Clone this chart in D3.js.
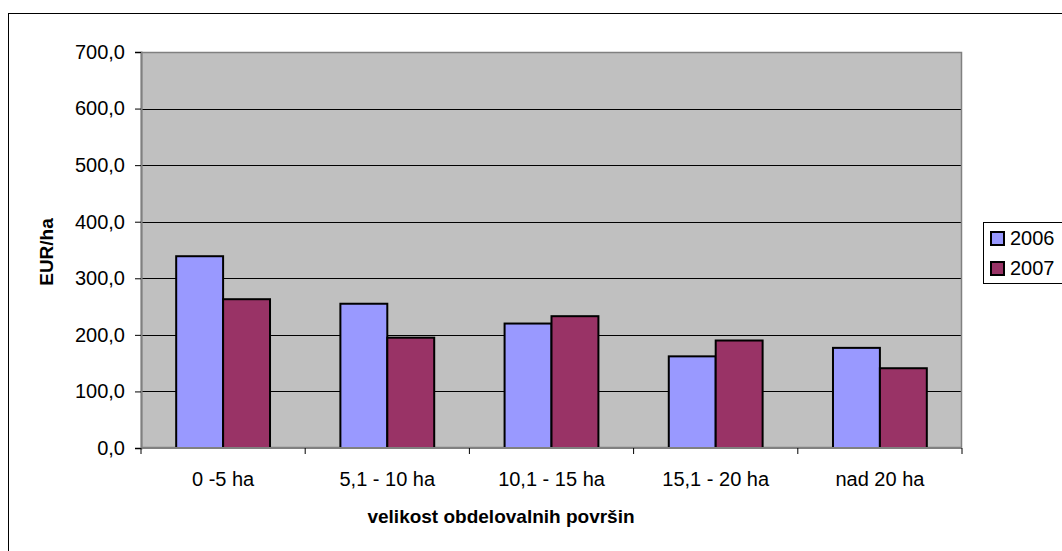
<!DOCTYPE html>
<html>
<head>
<meta charset="utf-8">
<script src="https://cdn.jsdelivr.net/npm/d3@7/dist/d3.min.js"></script>
<style>
  body { margin: 0; background: #fff; }
  svg { display: block; font-family: "Liberation Sans", Arial, sans-serif; }
</style>
</head>
<body>
<script>
// categories and series
const categories = ['0 -5 ha', '5,1 - 10 ha', '10,1 - 15 ha', '15,1 - 20 ha', 'nad 20 ha']
const years = ['2006', '2007']
const values2006 = [339, 255, 220, 162, 177]
const values2007 = [263, 195, 233, 190, 141]
const yTicks = [0, 100, 200, 300, 400, 500, 600, 700]
const colors = ['#9999FF', '#993366']

const series = [values2006, values2007]

// plot area
const margin = {top: 52, right: 100, bottom: 103, left: 141},
  W = 1062, H = 551,
  width = 962 - margin.left,
  height = 448 - margin.top

const svg = d3.select('body').append('svg')
  .attr('width', W)
  .attr('height', H)

// outer chart border (right / bottom run off the picture)
svg.append('rect')
  .attr('x', 8.5).attr('y', 13.5)
  .attr('width', 1100).attr('height', 600)
  .attr('fill', 'none').attr('stroke', '#000').attr('stroke-width', 1)

const g = svg.append('g')
  .attr('transform', 'translate(' + margin.left + ',' + margin.top + ')')

const x = d3.scaleBand().domain(categories).range([0, width]).padding(0)
const xs = d3.scaleBand().domain(years).range([0, x.bandwidth()])
  .paddingInner(0).paddingOuter(0.75)
const y = d3.scaleLinear().domain([0, 700]).range([height, 0])

// plot background
g.append('rect')
  .attr('width', width).attr('height', height)
  .attr('fill', '#C0C0C0')

// gridlines
g.selectAll('.grid')
  .data(yTicks.filter(d => d > 0))
  .enter().append('line')
  .attr('x1', 0).attr('x2', width)
  .attr('y1', d => Math.round(y(d)) + 0.5)
  .attr('y2', d => Math.round(y(d)) + 0.5)
  .attr('stroke', '#000').attr('stroke-width', 1)

// plot border
g.append('rect')
  .attr('x', 0.5).attr('y', 0.5)
  .attr('width', width - 1).attr('height', height - 1)
  .attr('fill', 'none').attr('stroke', '#808080').attr('stroke-width', 1.5)

// bars
categories.forEach(function (c, i) {
  years.forEach(function (yr, j) {
    const v = series[j][i]
    g.append('rect')
      .attr('x', x(c) + xs(yr))
      .attr('y', y(v))
      .attr('width', xs.bandwidth())
      .attr('height', height - y(v))
      .attr('fill', colors[j])
      .attr('stroke', '#000').attr('stroke-width', 2)
  })
})

// y axis
const fmt = d => d3.format('.1f')(d).replace('.', ',')
const yAxis = g.append('g')
  .call(d3.axisLeft(y).tickValues(yTicks).tickFormat(fmt).tickSize(6).tickPadding(10))
yAxis.select('.domain').attr('stroke', '#808080').attr('stroke-width', 2)
yAxis.selectAll('.tick line').attr('stroke', '#000')
yAxis.selectAll('text').attr('font-size', 20).attr('fill', '#000')
  .attr('font-family', '"Liberation Sans", Arial, sans-serif')

// x axis, ticks at category boundaries
const xAxisG = g.append('g').attr('transform', 'translate(0,' + height + ')')
xAxisG.append('line')
  .attr('x1', 0).attr('x2', width).attr('y1', 0).attr('y2', 0)
  .attr('stroke', '#808080').attr('stroke-width', 2)
xAxisG.selectAll('.xt')
  .data(d3.range(categories.length + 1))
  .enter().append('line')
  .attr('x1', d => d * x.step()).attr('x2', d => d * x.step())
  .attr('y1', 0).attr('y2', 6)
  .attr('stroke', '#000')
xAxisG.selectAll('.xl')
  .data(categories)
  .enter().append('text')
  .attr('x', d => x(d) + x.bandwidth() / 2)
  .attr('y', 38)
  .attr('text-anchor', 'middle')
  .attr('font-size', 20)
  .text(d => d)

// axis titles
svg.append('text')
  .attr('x', 501).attr('y', 523)
  .attr('text-anchor', 'middle')
  .attr('font-size', 19).attr('font-weight', 'bold')
  .text('velikost obdelovalnih površin')

svg.append('text')
  .attr('transform', 'translate(53,252) rotate(-90)')
  .attr('text-anchor', 'middle')
  .attr('font-size', 19).attr('font-weight', 'bold')
  .text('EUR/ha')

// legend
const lg = svg.append('g').attr('transform', 'translate(983,222)')
lg.append('rect')
  .attr('x', 0.5).attr('y', 0.5).attr('width', 120).attr('height', 61)
  .attr('fill', '#fff').attr('stroke', '#000')
const item = lg.selectAll('.item')
  .data(years)
  .enter().append('g')
  .attr('transform', (d, i) => 'translate(8,' + (16 + i * 30) + ')')
item.append('rect')
  .attr('x', 0).attr('y', -6).attr('width', 13).attr('height', 13)
  .attr('fill', (d, i) => colors[i])
  .attr('stroke', '#000').attr('stroke-width', 2)
item.append('text')
  .attr('x', 19).attr('y', 7)
  .attr('font-size', 20)
  .text(d => d)
</script>
</body>
</html>
